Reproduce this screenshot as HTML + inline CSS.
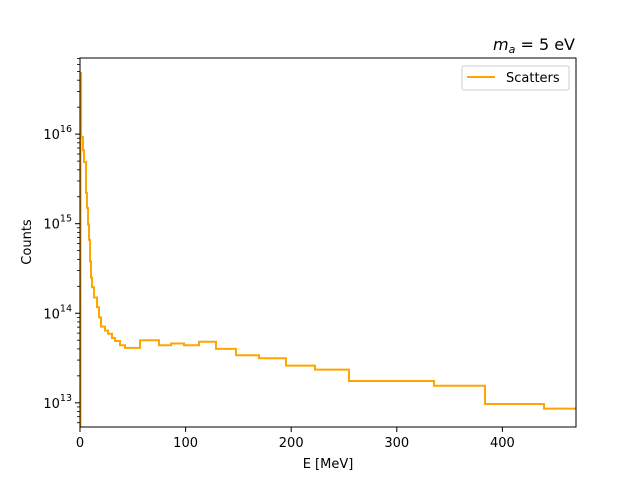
<!DOCTYPE html>
<html><head><meta charset="utf-8"><style>
body{margin:0;background:#fff}
svg{display:block;font-family:"DejaVu Sans","Liberation Sans",sans-serif}
</style></head><body>
<svg id="chart" width="640" height="480" viewBox="0 0 640 480">
<rect width="640" height="480" fill="#fff"/>
<defs><clipPath id="clip"><rect x="80" y="58" width="496" height="369"/></clipPath></defs>
<g id="ticks"></g>
<path id="series" fill="none" stroke="orange" stroke-width="2" clip-path="url(#clip)"/>
<rect x="80" y="58" width="496" height="369" fill="none" stroke="#000" stroke-width="1"/>
<text x="328" y="468" font-size="13" text-anchor="middle">E [MeV]</text>
<text transform="translate(31,242) rotate(-90)" font-size="13" text-anchor="middle">Counts</text>
<text x="575" y="50" font-size="16" text-anchor="end"><tspan font-style="italic">m</tspan><tspan font-style="italic" font-size="11" dy="3">a</tspan><tspan dy="-3"> =  5 eV</tspan></text>
<g>
<rect x="462" y="66" width="107" height="24" rx="2" fill="#fff" stroke="#ccc"/>
<line x1="467" y1="77" x2="495" y2="77" stroke="orange" stroke-width="2"/>
<text x="506" y="82" font-size="13">Scatters</text>
</g>
</svg>
<script>
const edges=[0.5,1.0,2.8,3.8,5.7,6.6,7.6,8.5,9.5,10.4,11.4,13.3,16.1,18.0,19.9,23.7,26.5,30.3,33.1,37.9,42.6,47.3,56.8,74.8,86.2,98.5,112.7,128.8,147.7,169.5,195.1,222.5,254.7,335.2,383.5,439.4,469.7];
const counts=[4.8e16,9.3e15,6.6e15,4.9e15,2.2e15,1.5e15,9.8e14,6.6e14,3.8e14,2.5e14,1.95e14,1.5e14,1.17e14,9.0e13,7.1e13,6.4e13,5.9e13,5.3e13,4.9e13,4.4e13,4.1e13,4.1e13,5.0e13,4.4e13,4.6e13,4.4e13,4.8e13,4.0e13,3.4e13,3.15e13,2.6e13,2.35e13,1.75e13,1.55e13,9.7e12,8.6e12];
const xTicks=[0,100,200,300,400];
const yExps=[13,14,15,16];
const X0=80,X1=576,Y0=58,Y1=427,XMAX=469.7,LMIN=12.73,LMAX=16.85;
const sx=v=>X0+v/XMAX*(X1-X0);
const sy=v=>Y1-(Math.log10(v)-LMIN)/(LMAX-LMIN)*(Y1-Y0);
const NS="http://www.w3.org/2000/svg";
let d="M"+sx(edges[0])+","+(Y1+5);
counts.forEach((c,i)=>{d+="L"+sx(edges[i])+","+sy(c)+"L"+sx(edges[i+1])+","+sy(c);});
d+="L"+(sx(edges[edges.length-1])+5)+","+sy(counts[counts.length-1]);
document.getElementById('series').setAttribute('d',d);
const g=document.getElementById('ticks');
function mk(tag,attrs,txt){const e=document.createElementNS(NS,tag);for(const k in attrs)e.setAttribute(k,attrs[k]);if(txt!==undefined)e.textContent=txt;g.appendChild(e);return e;}
xTicks.forEach(t=>{const x=sx(t);
const l=mk('line',{x1:x,x2:x,y1:Y1,y2:Y1+5,stroke:'#000'});


const tx=mk('text',{x:x,y:Y1+20,'font-size':13,'text-anchor':'middle'},t);


});
yExps.forEach(e=>{const y=sy(Math.pow(10,e));
const l=mk('line',{x1:X0-5,x2:X0,y1:y,y2:y,stroke:'#000'});


const tx=mk('text',{x:X0-8,y:y+5,'font-size':13,'text-anchor':'end'});


tx.innerHTML='10<tspan dy="-7" font-size="9.5">'+e+'</tspan>';
});
for(let e=12;e<=16;e++)for(let m=2;m<=9;m++){const v=m*Math.pow(10,e);const lv=Math.log10(v);if(lv<LMIN||lv>LMAX)continue;const y=sy(v);
const l=mk('line',{x1:X0-3,x2:X0,y1:y,y2:y,stroke:'#000','stroke-width':0.8});


}
</script>
</body></html>
